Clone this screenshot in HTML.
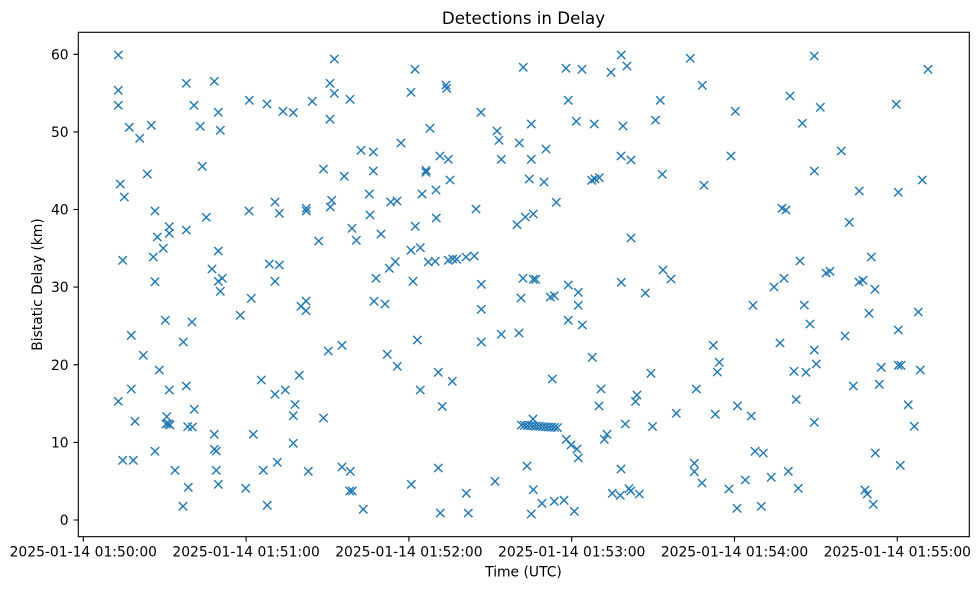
<!DOCTYPE html>
<html>
<head>
<meta charset="utf-8">
<style>
html,body{margin:0;padding:0;background:#fff;}
svg{display:block;}
text{font-family:"DejaVu Sans","Liberation Sans",sans-serif;fill:#000;}
</style>
</head>
<body>
<svg width="979" height="590" viewBox="0 0 979 590" xmlns="http://www.w3.org/2000/svg">
<defs>
<marker id="mx" markerUnits="userSpaceOnUse" markerWidth="12" markerHeight="12" refX="6" refY="6" overflow="visible">
<path d="M1.83 1.83L10.17 10.17M1.83 10.17L10.17 1.83" fill="none" stroke="#1f77b4" stroke-width="1.39"/>
</marker>
</defs>
<rect x="0" y="0" width="979" height="590" fill="#fff"/>
<text x="523.5" y="24" font-size="16.67" text-anchor="middle">Detections in Delay</text>

<polyline fill="none" stroke="none" marker-start="url(#mx)" marker-mid="url(#mx)" marker-end="url(#mx)" points="
118.3,55 118.3,90.3 118.3,105.3 129.3,127.3 139.7,138.3 151.3,125.3 120.3,184 124.3,197 147.3,174
186.3,83.3 194,105.3 200.3,126.3 214.3,81.3 218.3,112.3 220.3,130.3 202.3,166.3 249.3,100.3 267,104
283,111.3 293.3,112.7 312.3,101.3 330,83.3 330,119.2 323.5,169 334.3,59 334.3,93.3 350,99.3
415,69.3 411,92.3 446,85 446.7,88.3 481,112.3 430,128.3 401,143 361,150.3 373.3,152 373.3,171
344.3,176.3 331.7,200.3 369.3,194 390.7,202 397,201 422,194 436,190 450,180 426,170.3 426,172.3
440,156 448.3,159.3 497,131 499,140.3 501.3,159.3 519.3,143 523.3,67.3 531.3,124 531.3,159.3
529.3,179 544,182 546,149 556.3,202.3 566,68.3 582,69.3 568.3,100.3 576.3,121.3 594.3,124
611,72.3 621.3,55 627,66 623,126 621,156 631,160 591.7,180.3 595,179 599.3,177.7 655.5,120.2
690.3,58.3 814.3,56 928,69.3 702.3,85.3 660.3,100.3 735.3,111.3 790,96 820.3,107.3 802.3,123.3
896.3,104.3 841.3,151 731,156 662.3,174.3 704,185.3 814.3,171 859.3,191 898.3,192.3 922.3,180
155,211 206.3,217.3 249,211 275,202 279.3,213.3 306.3,208.3 306.3,211 330.3,207 370,215
169.3,226.7 169.3,233.3 186.3,230 157.3,237 163.3,248.3 122.7,260.3 153.3,257 218.3,251 212,269
218.3,281.3 222.3,278.3 220.3,291.3 155,281.7 269.3,264 279.3,265 275,281.3 318.7,241 352,228.3
356.3,240.3 251.3,298.3 240.3,315.3 301,306.3 306,301 306,310.7 374,301.2 376,278.3 165.3,320.3
192,322 131.3,335.3 183.3,342 143.3,355.3 159.3,370 328.3,351 342,345.3 131.3,389 169.3,390
186.3,386 261.3,380 275,394.3 285.3,390 299.3,375.3 295,404.5 118.3,401.3
476,209 415.3,226.3 436.3,218 381,234 411,250.3 420.3,247.7 389.3,268.3 395.3,261.7 428.3,262
435.3,261.3 448.3,260.3 452.7,259 456.7,259.3 466,257 474.3,256 413,281.3 385,304 481.3,284.3
481.3,309.3 517,224.7 525.3,217 533.3,214 631,238 523,278.3 533.3,279.3 535.7,279.3 521,298
550.3,297 554.3,295.7 568.3,285 578.3,292.3 578.3,305.3 568.3,320.3 582.3,325 621.3,282.3
645.3,293 663,270 671,279 417.3,340 387.3,354.3 397.3,366.3 481.3,342 501.3,334.3 519,333
438.3,372.3 452.3,381.3 420.3,390 552.3,379 592.3,357.3 601,389 651,373.3 637,395 635.5,401.5
599,406 442.3,406.5
782,208.3 786,210 849.3,222.3 800,261 871.3,257 826,273 830,271.3 774,287 784,278.3 859,282
863,280.3 875,289.3 753,305.3 804.3,305 810,324 869,313.3 918.3,312 898.3,330 845,336 713.3,345.3
780,343 814.3,350 719.3,362.3 717.3,372 816.3,364 794,371.3 806,372.3 881.3,367.3 898.3,365.3
901,365.3 920.3,370 696.3,389 853.3,386 879.3,384.3 796.2,399.5 908.2,404.8 737.5,405.8
135,421.3 122.7,460.3 133.3,460.3 155,451.3 166.7,416.7 166,424 168.5,424 170,425 175,470.3
183,506.3 188.3,487.3 187.7,426.7 192.3,427 194.3,409.3 214.3,434.3 214.3,449.3 216.3,451
216.3,470.3 218.3,484.3 245.7,488.3 253.3,434.3 263.3,470.3 267.3,505.3 277.3,462.3 293.3,415.7
293.3,443.3 308.3,471.3 323.5,418
342,467 350.3,471.3 349.7,491 352.3,491 363.3,509.3 411.3,484.3 438.3,468 440.3,513 466.3,493.3
468.3,513 495,481.3 521.5,425 524.5,425.3 527.5,425.6 530.5,425.6 533.5,426 536.5,426.2
539.5,426.4 542.5,426.6 545.5,426.8 548.5,427 551.5,427.2 554.5,427.4 557.5,427.6 533,419
527,466 533.3,489.7 531.3,514 542,503.3 554.3,501.3 564,500.3 574.3,511.3 566.3,439.3 571,445
577,449 578.3,458 604.3,439.3 607,434.3 625.3,424 621,469 652.5,426.5 612.3,493.3 620.3,495.3
629,488.7 630.7,491 639.3,494
676.3,413.3 715.3,414.3 751.3,416 814.3,422.3 914.3,426.3 694.3,463.3 694.3,471.7 702,483
729,489 745.3,480 737,508.3 755,451.3 763.3,453 771.3,477.3 761.3,506.3 788.3,471.3 798.3,488.3
875.3,453 900.3,465.3 865,490 867.3,494 873.3,504.3
"/>

<rect x="78.3" y="32.3" width="891" height="504.4" fill="none" stroke="#000" stroke-width="1.11"/>

<path stroke="#000" stroke-width="1.11" fill="none" d="M73.4 520H78.3M73.4 442.4H78.3M73.4 364.8H78.3M73.4 287.1H78.3M73.4 209.5H78.3M73.4 131.9H78.3M73.4 54.3H78.3"/>
<g font-size="13.89" text-anchor="end">
<text x="68.6" y="525">0</text>
<text x="68.6" y="447.4">10</text>
<text x="68.6" y="369.8">20</text>
<text x="68.6" y="292.1">30</text>
<text x="68.6" y="214.5">40</text>
<text x="68.6" y="136.9">50</text>
<text x="68.6" y="59.3">60</text>
</g>

<path stroke="#000" stroke-width="1.11" fill="none" d="M83.3 536.7V541.6M246.1 536.7V541.6M408.9 536.7V541.6M571.7 536.7V541.6M734.5 536.7V541.6M897.3 536.7V541.6"/>
<g font-size="13.89" text-anchor="middle">
<text x="83.3" y="556.5">2025-01-14 01:50:00</text>
<text x="246.1" y="556.5">2025-01-14 01:51:00</text>
<text x="408.9" y="556.5">2025-01-14 01:52:00</text>
<text x="571.7" y="556.5">2025-01-14 01:53:00</text>
<text x="734.5" y="556.5">2025-01-14 01:54:00</text>
<text x="897.3" y="556.5">2025-01-14 01:55:00</text>
</g>

<text x="523.5" y="576.7" font-size="13.89" text-anchor="middle">Time (UTC)</text>
<text x="0" y="0" font-size="13.89" text-anchor="middle" transform="translate(42,284.5) rotate(-90)">Bistatic Delay (km)</text>
</svg>
</body>
</html>
